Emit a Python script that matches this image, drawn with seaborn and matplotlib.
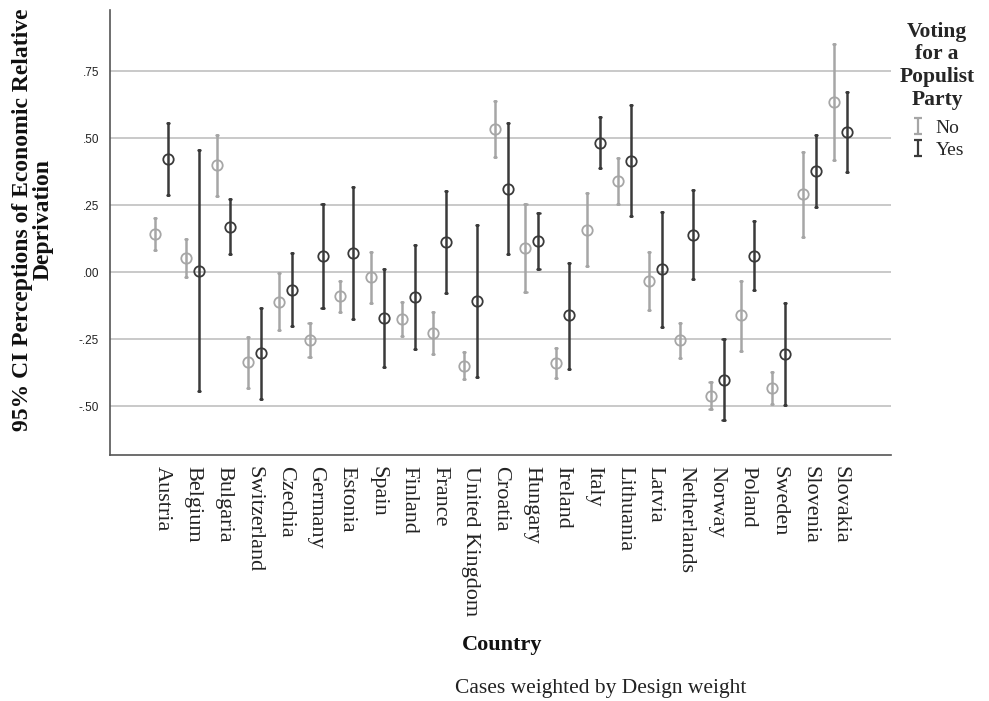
import numpy as np
import pandas as pd
import matplotlib
matplotlib.use("Agg")
import matplotlib.pyplot as plt
from matplotlib.lines import Line2D
from matplotlib.path import Path
import seaborn as sns

countries = ["Austria", "Belgium", "Bulgaria", "Switzerland", "Czechia", "Germany",
             "Estonia", "Spain", "Finland", "France", "United Kingdom", "Croatia",
             "Hungary", "Ireland", "Italy", "Lithuania", "Latvia", "Netherlands",
             "Norway", "Poland", "Sweden", "Slovenia", "Slovakia"]

no_mean = [0.142, 0.052, 0.399, -0.336, -0.110, -0.253, -0.090, -0.019, -0.174, -0.225,
           -0.348, 0.534, 0.091, -0.338, 0.158, 0.341, -0.032, -0.254, -0.460, -0.161,
           -0.432, 0.291, 0.634]
no_low = [0.083, -0.019, 0.285, -0.431, -0.215, -0.317, -0.149, -0.115, -0.236, -0.305,
          -0.399, 0.429, -0.074, -0.393, 0.022, 0.255, -0.141, -0.321, -0.510, -0.293,
          -0.491, 0.132, 0.420]
no_high = [0.201, 0.124, 0.512, -0.243, -0.004, -0.188, -0.031, 0.076, -0.111, -0.147,
           -0.297, 0.639, 0.254, -0.282, 0.295, 0.427, 0.076, -0.189, -0.409, -0.031,
           -0.373, 0.450, 0.851]

yes_mean = [0.422, 0.006, 0.169, -0.302, -0.066, 0.060, 0.071, -0.171, -0.092, 0.113,
            -0.107, 0.312, 0.117, -0.161, 0.484, 0.417, 0.011, 0.140, -0.401, 0.062,
            -0.305, 0.379, 0.523]
yes_low = [0.288, -0.442, 0.067, -0.473, -0.200, -0.134, -0.174, -0.352, -0.287, -0.077,
           -0.391, 0.068, 0.012, -0.360, 0.388, 0.211, -0.205, -0.024, -0.551, -0.065,
           -0.495, 0.245, 0.374]
yes_high = [0.556, 0.456, 0.272, -0.134, 0.072, 0.255, 0.318, 0.013, 0.102, 0.303,
            0.175, 0.556, 0.220, 0.035, 0.580, 0.623, 0.226, 0.307, -0.250, 0.191,
            -0.116, 0.512, 0.672]

groups = ["No", "Yes"]
colors = {"No": "#a6a6a6", "Yes": "#3a3a3a"}

rows = []
for i, c in enumerate(countries):
    for g, lo, m, hi in (("No", no_low, no_mean, no_high), ("Yes", yes_low, yes_mean, yes_high)):
        for v in (lo[i], m[i], hi[i]):
            rows.append({"Country": c, "Vote": g, "value": v})
df = pd.DataFrame(rows)

sns.set_theme(style="white")
plt.rcParams["font.family"] = ["Liberation Serif", "DejaVu Serif"]

fig = plt.figure(figsize=(9.89, 7.01), dpi=100)
ax = fig.add_axes([110 / 989, 1 - 455 / 701, (891 - 110) / 989, (455 - 10) / 701])

sns.pointplot(data=df, x="Country", y="value", hue="Vote", order=countries,
              hue_order=groups, palette=colors, estimator="median",
              errorbar=lambda v: (np.min(v), np.max(v)), dodge=0.42,
              linestyle="none", markers="o", markersize=7.5,
              markerfacecolor="none", markeredgewidth=1.3,
              err_kws={"linewidth": 1.8}, capsize=0.07, ax=ax, legend=False)

for coll in ax.lines:
    coll.set_markerfacecolor("none")

ax.set_xlim(-1.68, 23.64)
ax.set_ylim(-0.682, 0.979)
yt = [0.75, 0.5, 0.25, 0.0, -0.25, -0.5]
ax.set_yticks(yt)
ax.set_yticklabels([".75", ".50", ".25", ".00", "-.25", "-.50"],
                   fontfamily="Liberation Sans", fontsize=8.5, color="#222222")
for y in yt:
    ax.axhline(y, color="#c0c0c0", lw=1.2, zorder=0)
ax.tick_params(axis="y", length=0, pad=8)
ax.tick_params(axis="x", length=0, pad=8)
ax.set_xticks(range(len(countries)))
ax.set_xticklabels(countries, rotation=270, fontsize=16, color="#222222",
                   va="top", ha="center")
for s in ["top", "right"]:
    ax.spines[s].set_visible(False)
for s in ["left", "bottom"]:
    ax.spines[s].set_color("#555555")
    ax.spines[s].set_linewidth(1.2)

ax.set_xlabel("")
ax.set_ylabel("")
fig.text(502 / 989, 1 - 645 / 701, "Country", ha="center", va="center",
         fontsize=16, fontweight="bold", color="#111111")
fig.text(33 / 989, 1 - 220 / 701, "95% CI Perceptions of Economic Relative\nDeprivation",
         ha="center", va="center", rotation=90, fontsize=17, fontweight="bold",
         color="#111111", linespacing=1.0)
fig.text(601 / 989, 1 - 688 / 701, "Cases weighted by Design weight",
         ha="center", va="center", fontsize=15.5, color="#222222")

ibar = Path([(-0.5, -1), (0.5, -1), (0, -1), (0, 1), (-0.5, 1), (0.5, 1)],
            [Path.MOVETO, Path.LINETO, Path.MOVETO, Path.LINETO, Path.MOVETO, Path.LINETO])
handles = [Line2D([], [], color=colors[g], marker=ibar, markersize=11,
                  markeredgewidth=1.6, linestyle="none") for g in groups]
leg = fig.legend(handles, groups, title="Voting\nfor a\nPopulist\nParty",
                 loc="upper center", bbox_to_anchor=(937 / 989, 1 - 8 / 701),
                 frameon=False, fontsize=14, handlelength=0.8, handletextpad=0.5,
                 labelspacing=0.2, borderpad=0.2)
leg.get_title().set_fontweight("bold")
leg.get_title().set_fontsize(15.5)
leg.get_title().set_multialignment("center")
leg.get_title().set_linespacing(1.18)
try:
    leg._legend_box.sep = 7
except Exception:
    pass

fig.savefig("out.png", dpi=100)
